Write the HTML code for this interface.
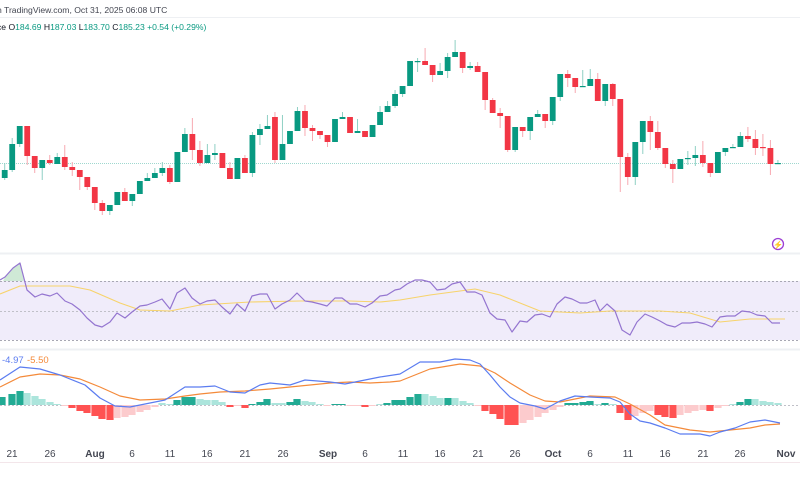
<!DOCTYPE html>
<html><head><meta charset="utf-8"><style>
html,body{margin:0;padding:0;background:#fff;width:800px;height:500px;overflow:hidden}
svg{display:block;font-family:"Liberation Sans",sans-serif}
</style></head><body>
<svg id="s" width="800" height="500" viewBox="0 0 800 500" xmlns="http://www.w3.org/2000/svg">
<rect width="800" height="500" fill="#fff"/>
<text x="-3" y="13" font-size="8.6" fill="#434651">n TradingView.com, Oct 31, 2025 06:08 UTC</text>
<line x1="0" y1="17.5" x2="800" y2="17.5" stroke="#eef0f3"/>
<text x="-3" y="30" font-size="8.6" fill="#131722">ce <tspan>O</tspan><tspan fill="#089981">184.69</tspan> <tspan>H</tspan><tspan fill="#089981">187.03</tspan> <tspan>L</tspan><tspan fill="#089981">183.70</tspan> <tspan>C</tspan><tspan fill="#089981">185.23</tspan> <tspan fill="#089981">+0.54 (+0.29%)</tspan></text>
<line x1="0" y1="163.5" x2="800" y2="163.5" stroke="#9fd8cf" stroke-dasharray="1 1"/>
<line x1="0" y1="253.5" x2="800" y2="253.5" stroke="#eef0f3" stroke-width="2"/>
<rect x="0" y="281" width="800" height="59" fill="#f0ecfa"/>
<line x1="0" y1="281.5" x2="800" y2="281.5" stroke="#a8a8b3" stroke-dasharray="2 2"/>
<line x1="0" y1="311.5" x2="800" y2="311.5" stroke="#c0c0c8" stroke-dasharray="2 2"/>
<line x1="0" y1="340.5" x2="800" y2="340.5" stroke="#a8a8b3" stroke-dasharray="2 2"/>
<line x1="0" y1="349.5" x2="800" y2="349.5" stroke="#eef0f3" stroke-width="2"/>
<line x1="0" y1="405.5" x2="800" y2="405.5" stroke="#c0c0c8" stroke-dasharray="2 2"/>
<line x1="0" y1="462.5" x2="800" y2="462.5" stroke="#f3e6ea"/>
<g id="g"></g>
<text x="2" y="363" font-size="9.5" fill="#5b7cf0">-4.97</text>
<text x="27" y="363" font-size="9.5" fill="#f48a3a">-5.50</text>
<circle cx="778" cy="244" r="5.5" fill="none" stroke="#9c3fd4" stroke-width="1.3"/>
<text x="778" y="247.5" font-size="8" fill="#9c3fd4" text-anchor="middle">⚡</text>
<g font-size="10" fill="#434651" text-anchor="middle">
<text x="12" y="457">21</text><text x="50" y="457">26</text><text x="95" y="457" font-weight="bold">Aug</text>
<text x="132" y="457">6</text><text x="170" y="457">11</text><text x="207" y="457">16</text><text x="245" y="457">21</text>
<text x="283" y="457">26</text><text x="328" y="457" font-weight="bold">Sep</text><text x="365" y="457">6</text>
<text x="403" y="457">11</text><text x="440" y="457">16</text><text x="478" y="457">21</text><text x="515" y="457">26</text>
<text x="553" y="457" font-weight="bold">Oct</text><text x="590" y="457">6</text><text x="628" y="457">11</text>
<text x="665" y="457">16</text><text x="703" y="457">21</text><text x="740" y="457">26</text>
<text x="786" y="457" font-weight="bold">Nov</text>
</g>
</svg>
<script>
var C=[
['g',170,178,163,180],['g',144,170,138,172],['g',126,144,126,147],['r',126,156,126,165],['r',156,168,156,173],['g',160,168,160,180],['r',160,163,155,165],['g',157,164,153,164],['r',157,167,145,170],['r',167,170,162,176],
['r',170,177,170,190],['r',177,187,177,190],['r',187,203,187,210],['r',203,211,200,215],['g',205,211,205,215],['g',192,205,192,205],['r',192,201,188,201],['g',194,201,194,206],['g',181,194,181,194],['g',178,181,173,181],
['g',173,178,168,178],['g',168,173,162,176],['r',168,182,165,184],['g',152,182,152,182],['g',134,152,128,152],['r',134,150,118,160],['r',150,163,141,166],['g',155,163,144,163],['g',153,155,144,160],['r',153,168,153,168],
['r',168,179,162,179],['g',158,179,158,179],['r',158,173,155,173],['g',135,173,132,177],['g',129,135,124,145],['g',126,129,115,129],['r',117,160,112,163],['g',144,160,115,160],['g',131,144,131,144],['g',111,131,107,131],
['r',111,128,105,136],['r',128,131,125,141],['r',131,135,131,139],['r',135,142,135,147],['g',119,142,119,142],['g',117,119,112,119],['r',117,133,117,133],['g',131,133,119,133],['r',131,137,131,137],['g',125,137,125,137],
['g',112,125,106,125],['g',106,112,101,112],['g',94,106,90,108],['g',86,94,86,97],['g',61,86,61,86],['g',61,62,58,72],['r',61,65,48,65],['r',65,75,65,82],['g',71,75,63,75],['g',57,71,53,78],
['g',52,57,40,57],['r',52,68,52,73],['g',66,68,62,70],['r',66,72,62,72],['r',72,100,72,110],['r',100,113,98,113],['r',113,116,108,128],['r',116,150,116,152],['g',127,150,127,152],['r',127,131,127,137],
['g',117,131,117,140],['g',114,117,110,117],['r',114,121,114,128],['g',97,121,97,125],['g',74,97,74,101],['r',74,78,70,87],['r',78,87,78,93],['g',86,87,70,87],['g',79,86,69,86],['r',79,101,73,101],
['g',84,101,84,106],['r',84,99,83,106],['r',99,157,99,192],['r',157,177,153,185],['g',142,177,142,185],['g',121,142,121,154],['r',121,132,116,150],['r',132,148,121,150],['r',148,164,148,168],['r',164,169,160,183],
['g',159,169,159,169],['g',158,159,151,165],['g',155,158,146,166],['r',155,163,141,167],['r',163,173,163,177],['g',152,173,152,173],['g',148,152,148,156],['g',147,148,144,148],['g',136,147,132,147],['r',136,139,127,142],
['r',139,148,130,155],['r',147,148,134,156],['r',148,164,140,175],['g',163,164,160,164]];
var h='';
C.forEach(function(c,i){var x=4.7+i*7.507;var col=c[0]=='g'?'#089981':'#f23645';var wc=c[0]=='g'?'#8fd0c4':'#f7a9b1';
h+='<line x1="'+x+'" y1="'+c[3]+'" x2="'+x+'" y2="'+c[4]+'" stroke="'+wc+'" stroke-width="1"/>';
var t=Math.min(c[1],c[2]),bh=Math.max(Math.abs(c[2]-c[1]),1.2);
h+='<rect x="'+(x-2.9)+'" y="'+t+'" width="5.8" height="'+bh+'" fill="'+col+'"/>';});
var H=[[2,397,'dg'],[12,394,'dg'],[20,391,'dg'],[27,393,'lg'],[35,396,'lg'],[42,399,'lg'],[50,402,'lg'],[57,404,'lg'],[65,406,'lr'],[72,408,'r'],[80,411,'r'],[87,413,'r'],[95,416,'r'],[102,419,'r'],[110,420,'r'],[117,418,'lr'],[125,417,'lr'],[132,415,'lr'],[140,412,'lr'],[147,410,'lr'],[155,407,'lr'],[162,403,'lg'],[170,404,'lg'],[177,400,'dg'],[185,397,'dg'],[192,397,'dg'],[200,399,'lg'],[207,400,'lg'],[215,400,'lg'],[222,402,'lg'],[230,407,'r'],[237,406,'lr'],[245,408,'r'],[252,404,'dg'],[260,402,'dg'],[267,399,'dg'],[275,403,'lg'],[282,403,'lg'],[290,402,'dg'],[297,399,'dg'],[305,401,'lg'],[312,402,'lg'],[320,404,'lg'],[327,406,'lr'],[335,404,'dg'],[342,404,'dg'],[350,406,'lr'],[357,406,'lr'],[365,407,'r'],[372,406,'lr'],[380,404,'lg'],[387,403,'dg'],[395,400,'dg'],
[402,400,'dg'],[410,397,'dg'],[418,394,'dg'],[425,394,'lg'],[433,396,'lg'],[440,398,'lg'],[448,398,'dg'],[455,398,'lg'],[463,401,'lg'],[470,403,'lg'],[478,406,'lr'],[485,411,'r'],[493,414,'r'],[500,419,'r'],[508,425,'r'],[515,425,'r'],[523,423,'lr'],[530,420,'lr'],[538,417,'lr'],[545,413,'lr'],[553,410,'lr'],[560,407,'lr'],[568,403,'dg'],[575,403,'dg'],[583,402,'dg'],[590,401,'dg'],[598,404,'lg'],[605,403,'dg'],[613,404,'lg'],[620,413,'r'],[628,420,'r'],[635,416,'lr'],[643,413,'lr'],[650,411,'lr'],[658,415,'r'],[665,417,'r'],[673,418,'r'],[680,415,'lr'],[688,413,'lr'],[695,411,'lr'],[703,410,'lr'],[710,411,'r'],[718,408,'lr'],[725,406,'lr'],[733,404,'lg'],[740,402,'dg'],[748,399,'dg'],[755,399,'lg'],[763,401,'lg'],[770,402,'lg'],[778,403,'lg']];
var HC={dg:'#22ab94',lg:'#ace5dc',r:'#ff5252',lr:'#fccbcd'};
H.forEach(function(b){var t=Math.min(b[1],405),hh=Math.max(Math.abs(b[1]-405),1);h+='<rect x="'+(b[0]-3.6)+'" y="'+t+'" width="7.2" height="'+hh+'" fill="'+HC[b[2]]+'"/>';});
function pl(p,c,w){return '<polyline fill="none" stroke="'+c+'" stroke-width="'+(w||1.2)+'" stroke-linejoin="round" points="'+p.map(function(q){return q.join(',')}).join(' ')+'"/>';}
var R=[[0,280],[5,277],[13,268],[20,263],[27,290],[35,297],[42,294],[50,296],[57,293],[65,301],[72,304],[80,310],[87,318],[95,325],[102,327],[110,322],[117,313],[125,318],[132,312],[140,306],[147,305],[155,302],[162,299],[170,309],[177,293],[185,288],[192,298],[200,304],[207,301],[215,300],[222,307],[230,314],[237,304],[245,311],[252,296],[260,294],[267,294],[275,309],[282,304],[290,300],[297,293],[305,301],[312,302],[320,304],[327,306],[335,298],[342,298],[350,304],[357,304],[365,307],[372,303],[380,296],[387,295],[395,290],[400,289],[407,284],[415,280],[422,280],[430,282],[437,290],[445,289],[452,284],[460,282],[467,292],[475,292],[482,295],[490,313],[497,319],[505,320],[512,332],[520,321],[527,322],[535,315],[542,314],[550,317],[557,304],[565,297],[572,299],[580,303],[587,303],[595,300],[600,311],[607,304],[615,311],[622,330],[630,335],[637,322],[645,314],[652,317],[660,321],[667,325],[675,327],[682,323],[690,323],[697,322],[705,324],[712,327],[720,317],[727,316],[735,316],[742,311],[750,312],[757,315],[765,316],[772,323],[780,323]];
var M=[[0,294],[20,286],[70,286],[90,290],[120,303],[140,310],[170,311],[200,305],[250,302],[300,301],[350,301],[380,302],[400,300],[430,295],[475,289],[500,295],[540,311],[580,313],[610,311],[660,311],[690,313],[720,322],[750,319],[785,319]];
h+='<polygon fill="#cfe9d6" points="3,281 5,277 13,268 20,263 24,281"/>';
h+=pl(M,'#f7d36b',1.1)+pl(R,'#9475d0',1.2);
var B=[[0,380],[20,367],[40,369],[60,375],[85,385],[100,398],[115,406],[130,407],[150,403],[165,400],[185,387],[200,387],[215,386],[230,392],[245,393],[260,385],[270,383],[290,385],[305,380],[330,382],[345,384],[360,381],[380,377],[400,374],[420,362],[440,362],[455,359],[470,360],[480,364],[490,375],[500,387],[510,397],[520,403],[535,406],[545,409],[560,401],[575,396],[590,397],[610,398],[620,402],[630,414],[640,421],[650,423],[665,428],[680,434],[700,434],[710,436],[720,432],[735,428],[750,422],[765,420],[780,423]];
var O=[[0,387],[20,377],[40,374],[60,375],[80,379],[100,387],[120,396],[140,400],[165,399],[185,396],[200,394],[220,392],[245,391],[270,389],[300,386],[330,383],[350,382],[370,383],[390,382],[400,381],[430,369],[460,364],[480,366],[495,373],[510,383],[530,395],[545,401],[560,402],[590,396],[615,397],[630,404],[650,415],[665,425],[690,430],[710,432],[730,430],[750,428],[765,425],[780,424]];
h+=pl(O,'#f48a3a',1.2)+pl(B,'#5b7cf0',1.2);
document.getElementById('g').innerHTML=h;
</script>
</body></html>
